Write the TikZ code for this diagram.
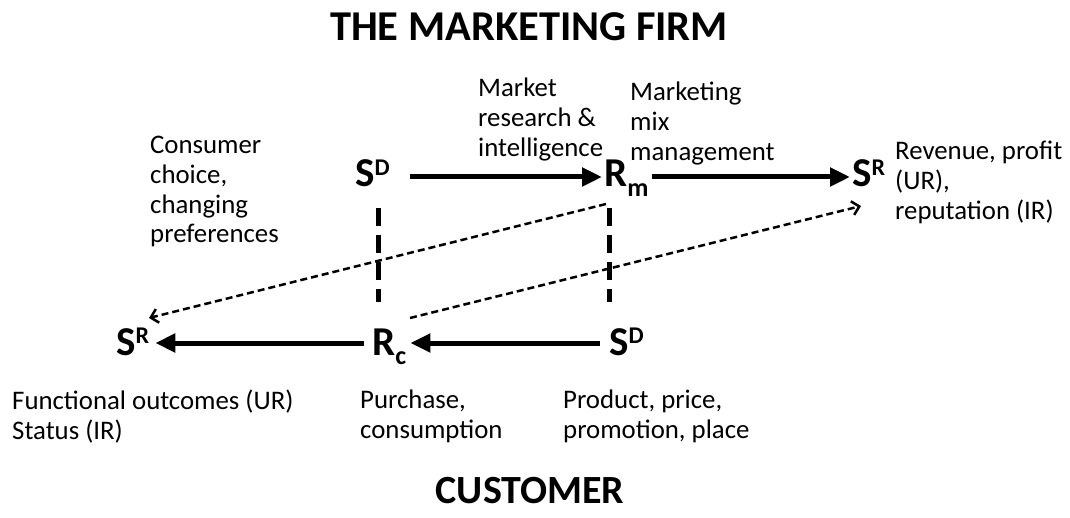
\documentclass[tikz,border=0pt]{standalone}
\usepackage{fontspec}
\setmainfont{Carlito}
\usetikzlibrary{arrows.meta}
\newcommand\mysup[1]{\raisebox{0.28em}{\fontsize{24}{24}\selectfont\bfseries #1}}
\newcommand\mysub[1]{\raisebox{-0.24em}{\fontsize{26}{26}\selectfont\bfseries #1}}
\tikzset{
 lbl/.style={font=\fontsize{26.8}{29.8}\selectfont, align=left, inner sep=0pt, anchor=north west},
 sym/.style={font=\fontsize{41}{41}\selectfont\bfseries, inner sep=0pt, anchor=base west},
 ttl/.style={font=\fontsize{40}{40}\selectfont\bfseries, inner sep=0pt},
 solidarr/.style={line width=5pt, -{Triangle[length=20pt,width=18pt]}},
 dasharr/.style={line width=2.5pt, dash pattern=on 7pt off 4pt, -{Straight Barb[length=7pt,width=14pt]}},
 vdash/.style={line width=5pt, dash pattern=on 18pt off 9pt},
}
\begin{document}
\begin{tikzpicture}[x=1pt,y=-1pt]
\useasboundingbox (0,0) rectangle (1070,518);
\node[ttl,font=\fontsize{42.5}{42.5}\selectfont\bfseries] (title) at (529,27) {THE MARKETING FIRM};
\node[ttl] (cust) at (530,491) {CUSTOMER};
% top row
\node[sym] (sdtop) at (355,187) {S\mysup{D}};
\node[sym] (rm) at (604,187) {R\mysub{m}};
\node[sym] (srr) at (852,187) {S\mysup{R}};
% bottom row
\node[sym] (srl) at (116,355) {S\mysup{R}};
\node[sym] (rc) at (372,355) {R\mysub{c}};
\node[sym] (sdb) at (609,355) {S\mysup{D}};
% labels
\node[lbl] (lmr) at (478,78) {Market\\research \&\\intelligence};
\node[lbl] (lmm) at (630,82) {Marketing\\mix\\management};
\node[lbl] (lcc) at (150,136) {Consumer\\choice,\\changing\\preferences};
\node[lbl] (lrev) at (895,141) {Revenue, profit\\(UR),\\reputation (IR)};
\node[lbl] (lfo) at (12,390) {Functional outcomes (UR)\\Status (IR)};
\node[lbl] (lpc) at (360,390) {Purchase,\\consumption};
\node[lbl] (lpp) at (563,390) {Product, price,\\promotion, place};
% solid arrows
\draw[solidarr] ([xshift=55pt,yshift=10pt]sdtop.base west) -- ([xshift=-2pt,yshift=10pt]rm.base west);
\draw[solidarr] ([xshift=3pt,yshift=10pt]rm.base east) -- ([xshift=-2pt,yshift=10pt]srr.base west);
\draw[solidarr] ([xshift=-9pt,yshift=12pt]sdb.base west) -- ([xshift=4pt,yshift=12pt]rc.base east);
\draw[solidarr] ([xshift=-8pt,yshift=12pt]rc.base west) -- ([xshift=6pt,yshift=12pt]srl.base east);
% vertical dashed
\coordinate (v1t) at (378,208);
\coordinate (v1b) at (378,302);
\coordinate (v2t) at (609,208);
\coordinate (v2b) at (609,302);
\draw[vdash] (v1t) -- (v1b);
\draw[vdash] (v2t) -- (v2b);
% dashed diagonals
\draw[dasharr] ([xshift=2pt,yshift=-17pt]rm.base west) -- ([xshift=33pt,yshift=37pt]srl.base west);
\draw[dasharr] ([xshift=38pt,yshift=37pt]rc.base west) -- ([xshift=9pt,yshift=-19pt]srr.base west);
\end{tikzpicture}
\end{document}
